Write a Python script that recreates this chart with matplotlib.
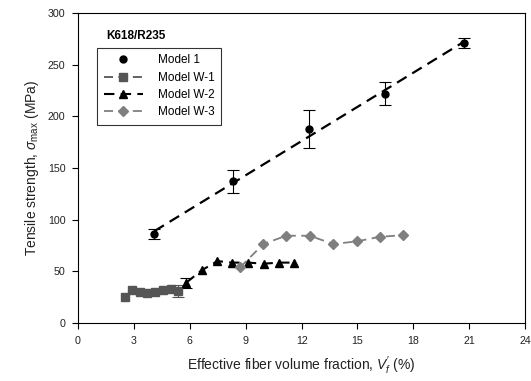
import numpy as np
import matplotlib.pyplot as plt
from matplotlib.lines import Line2D

plt.rcParams['font.family'] = ['Liberation Sans', 'DejaVu Sans']
plt.rcParams['mathtext.fontset'] = 'custom'
plt.rcParams['mathtext.rm'] = 'Liberation Sans'
plt.rcParams['mathtext.it'] = 'Liberation Sans:italic'

# Model 1 (experiment with error bars) and its linear fit
m1_x = [4.1, 8.3, 12.4, 16.5, 20.7]
m1_y = [86, 137, 188, 222, 271]
m1_err = [5, 11.5, 18.5, 11, 5]
fit_x = [4.1, 20.7]
fit_y = [89, 272]

# Model W-1
w1_x = [2.5, 2.9, 3.3, 3.7, 4.13, 4.55, 4.97, 5.38]
w1_y = [25, 32, 30, 29, 30, 32, 33, 31]
w1_err_idx = [7]
w1_err = [5.5]

# Model W-2
w2_x = [5.8, 6.63, 7.48, 8.25, 9.12, 9.97, 10.8, 11.6]
w2_y = [39, 51, 60, 58.5, 58.5, 57.5, 58.5, 58.5]
w2_err_idx = [0]
w2_err = [5]

# Model W-3
w3_x = [8.7, 9.95, 11.17, 12.43, 13.7, 14.95, 16.2, 17.45]
w3_y = [54, 76.5, 84.5, 84.5, 76.5, 79, 83.5, 85]

fig = plt.figure(figsize=(5.31, 3.81), dpi=100)
ax = fig.add_axes([0.147, 0.152, 0.842, 0.814])

dash = (0, (5, 3))
ebkw = dict(fmt='none', elinewidth=0.8, capsize=4, capthick=0.8)

ax.errorbar(m1_x, m1_y, yerr=m1_err, ecolor='black', zorder=2, **ebkw)
ax.plot(m1_x, m1_y, 'o', color='black', ms=5, zorder=4)
ax.plot(fit_x, fit_y, color='black', lw=1.6, linestyle=dash, zorder=3)

ax.errorbar([w1_x[i] for i in w1_err_idx], [w1_y[i] for i in w1_err_idx],
            yerr=w1_err, ecolor='#555555', zorder=2, **ebkw)
ax.plot(w1_x, w1_y, color='#555555', marker='s', ms=5.5, linestyle=dash,
        lw=1.3, zorder=3)

ax.errorbar([w2_x[i] for i in w2_err_idx], [w2_y[i] for i in w2_err_idx],
            yerr=w2_err, ecolor='black', zorder=2, **ebkw)
ax.plot(w2_x, w2_y, color='black', marker='^', ms=6, linestyle=dash,
        lw=1.5, zorder=3)

ax.plot(w3_x, w3_y, color='#7f7f7f', marker='D', ms=5, linestyle=dash,
        lw=1.3, zorder=3)

ax.set_xlim(0, 24)
ax.set_ylim(0, 300)
ax.set_xticks(np.arange(0, 25, 3))
ax.set_yticks(np.arange(0, 301, 50))
ax.tick_params(direction='out', length=4, width=0.8, labelsize=7.7,
               colors='black', labelcolor='#222222', pad=5)
for s in ax.spines.values():
    s.set_linewidth(0.8)

ax.set_xlabel(r"Effective fiber volume fraction, $V_f'$ (%)", fontsize=10,
              labelpad=6, color='#222222')
ax.set_ylabel(r"Tensile strength, $\sigma_{\rm max}$ (MPa)", fontsize=10,
              labelpad=5, color='#222222')

ax.text(0.064, 0.926, 'K618/R235', transform=ax.transAxes, fontsize=8.5,
        fontweight='bold', ha='left', va='center')

handles = [
    Line2D([], [], color='black', marker='o', ms=5, linestyle='none'),
    Line2D([], [], color='#555555', marker='s', ms=5.5, linestyle=dash, lw=1.3),
    Line2D([], [], color='black', marker='^', ms=6, linestyle=dash, lw=1.5),
    Line2D([], [], color='#7f7f7f', marker='D', ms=5, linestyle=dash, lw=1.3),
]
labels = ['Model 1', 'Model W-1', 'Model W-2', 'Model W-3']
leg = ax.legend(handles, labels, loc='upper left',
                bbox_to_anchor=(0.043, 0.887), fontsize=8.5,
                frameon=True, fancybox=False, edgecolor='black',
                handlelength=3.3, labelspacing=0.45, borderpad=0.55,
                handletextpad=1.3, borderaxespad=0)
leg.get_frame().set_linewidth(0.8)

fig.savefig('out.png', dpi=100)
